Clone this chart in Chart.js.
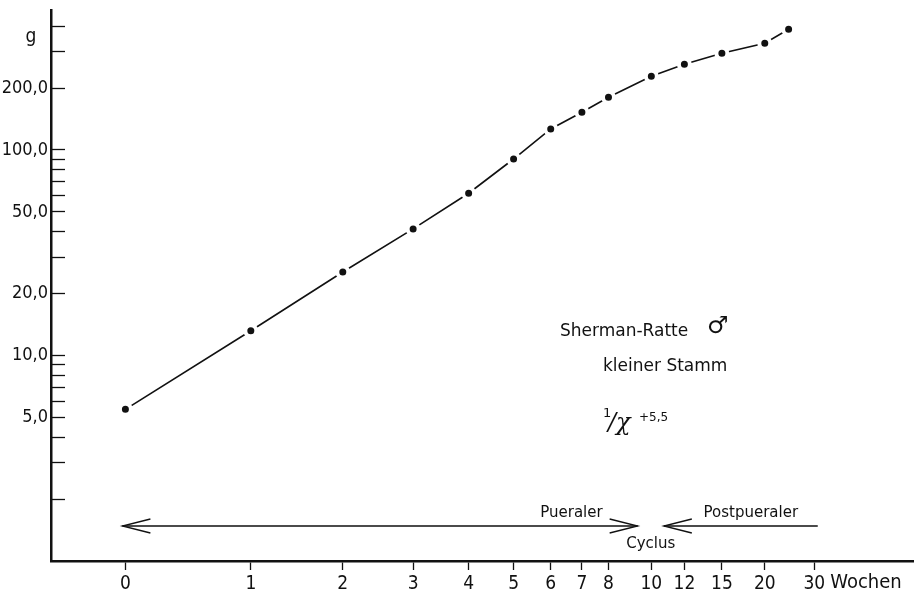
<!DOCTYPE html>
<html>
<head>
<meta charset="utf-8">
<script src="https://cdn.jsdelivr.net/npm/chart.js@4.4.1/dist/chart.umd.min.js"></script>
<style>
    html, body { margin: 0; padding: 0; background: #fff; }
    #wrap { width: 915px; height: 594px; }
</style>
</head>
<body>
<div id="wrap"><canvas id="chart" width="915" height="594"></canvas></div>
<script>
// age in weeks and body weight in g (Sherman rat, male, small strain)
const weeks = [0, 1, 2, 3, 4, 5, 6, 7, 8, 10, 12, 15, 20, 24];
const weights = [5.47, 13.2, 25.5, 41.3, 61.6, 90.4, 126.6, 152.6, 180.5, 228.4, 261.2, 295.5, 330.6, 386.7];

const weekTicks = [0, 1, 2, 3, 4, 5, 6, 7, 8, 10, 12, 15, 20, 30];
const weightTicks = [2, 3, 4, 5, 6, 7, 8, 9, 10, 20, 30, 40, 50, 60, 70, 80, 90, 100, 200, 300, 400];
const weightLabels = [5, 10, 20, 50, 100, 200];

const INK = '#111';
const FONT = '"Liberation Sans Narrow", "DejaVu Sans Condensed", "DejaVu Sans", sans-serif';
const TEXT = '"DejaVu Sans", sans-serif';
const SHIFT = 5.5; // x axis drawn as 1/(x + 5,5)

// x axis spaced like -1/(t + 5.5)
const recip = t => -1 / (t + SHIFT);
const unrecip = r => -1 / r - SHIFT;

class ReciprocalScale extends Chart.LinearScale {
    configure() {
        super.configure();
        this._rMin = recip(this.min);
        this._rMax = recip(this.max);
    }
    buildTicks() {
        return weekTicks.map(v => ({ value: v }));
    }
    getPixelForValue(value) {
        if (value === null || value === undefined) return NaN;
        return this.getPixelForDecimal((recip(value) - this._rMin) / (this._rMax - this._rMin));
    }
    getValueForPixel(pixel) {
        const d = this.getDecimalForPixel(pixel);
        return unrecip(this._rMin + d * (this._rMax - this._rMin));
    }
}
ReciprocalScale.id = 'reciprocal';
ReciprocalScale.defaults = {};
Chart.register(ReciprocalScale);

const noPad = s => {
    s.paddingTop = 0;
    s.paddingBottom = 0;
    s.paddingLeft = 0;
    s.paddingRight = 0;
};

const annotations = {
    id: 'annotations',
    afterDraw(chart) {
        const { ctx, chartArea: a, scales: { x } } = chart;
        ctx.save();
        ctx.fillStyle = INK;
        ctx.strokeStyle = INK;
        ctx.textBaseline = 'middle';

        // unit labels
        ctx.font = '19px ' + FONT;
        ctx.textAlign = 'center';
        ctx.fillText('g', a.left - 20, a.top + 27);
        ctx.textAlign = 'left';
        ctx.font = '20px ' + FONT;
        ctx.fillText('Wochen', x.getPixelForValue(30) + 16, a.bottom + 22);

        // legend text
        ctx.font = '17px ' + TEXT;
        ctx.fillText('Sherman-Ratte', 560, 332);
        ctx.font = '24px ' + TEXT;
        ctx.fillText('\u2642', 707, 327);
        ctx.font = '17px ' + TEXT;
        ctx.fillText('kleiner Stamm', 603, 367);
        ctx.font = '13px ' + TEXT;
        ctx.fillText('1', 603, 414);
        ctx.font = 'italic 24px "DejaVu Serif", serif';
        ctx.fillText('/\u03c7', 608, 424);
        ctx.font = '12px ' + TEXT;
        ctx.fillText('+5,5', 639, 418);

        // phase arrows
        const yA = a.bottom - 35;
        const head = (tip, dir) => {
            ctx.beginPath();
            ctx.moveTo(tip + dir * 28, yA - 7);
            ctx.lineTo(tip, yA);
            ctx.lineTo(tip + dir * 28, yA + 7);
            ctx.stroke();
        };
        ctx.lineWidth = 1.3;
        const p0 = x.getPixelForValue(0) - 3;
        const p1 = x.getPixelForValue(9.3);
        const p2 = x.getPixelForValue(10.7);
        const p3 = x.getPixelForValue(31);
        ctx.beginPath();
        ctx.moveTo(p0, yA); ctx.lineTo(p1, yA);
        ctx.moveTo(p2, yA); ctx.lineTo(p3, yA);
        ctx.stroke();
        head(p0, 1);
        head(p1, -1);
        head(p2, 1);

        ctx.font = '15px ' + TEXT;
        ctx.textAlign = 'right';
        ctx.fillText('Pueraler', p1 - 35, yA - 13);
        ctx.textAlign = 'center';
        ctx.fillText('Cyclus', (p1 + p2) / 2, yA + 18);
        ctx.fillText('Postpueraler', p2 + 87, yA - 13);
        ctx.restore();
    }
};

new Chart(document.getElementById('chart'), {
    type: 'line',
    data: {
        datasets: [{
            data: weeks.map((w, i) => ({ x: w, y: weights[i] })),
            borderColor: INK,
            borderWidth: 1.6,
            pointRadius: 5.5,
            pointBackgroundColor: INK,
            pointBorderColor: '#fff',
            pointBorderWidth: 4,
            tension: 0
        }]
    },
    options: {
        responsive: false,
        animation: false,
        layout: { autoPadding: false, padding: { top: 10, right: 2 } },
        plugins: { legend: { display: false }, tooltip: { enabled: false } },
        scales: {
            x: {
                type: 'reciprocal',
                min: -0.46,
                max: 157,
                afterFit: s => { s.height = 33; noPad(s); },
                grid: { drawOnChartArea: false, tickLength: 9, tickColor: INK, tickWidth: 1.3 },
                border: { color: INK, width: 2.5 },
                ticks: {
                    autoSkip: false,
                    maxRotation: 0,
                    padding: 3,
                    color: INK,
                    font: { family: FONT, size: 19 },
                    callback: v => String(v)
                }
            },
            y: {
                type: 'logarithmic',
                min: 1,
                max: 480,
                afterFit: s => { s.width = 51; noPad(s); },
                afterBuildTicks: s => { s.ticks = weightTicks.map(v => ({ value: v })); },
                grid: { drawOnChartArea: false, tickLength: -14, tickColor: INK, tickWidth: 1.3 },
                border: { color: INK, width: 2.5 },
                ticks: {
                    autoSkip: false,
                    padding: 17,
                    color: INK,
                    font: { family: FONT, size: 18 },
                    callback: v => weightLabels.includes(v) ? v.toFixed(1).replace('.', ',') : ''
                }
            }
        }
    },
    plugins: [annotations]
});
</script>
</body>
</html>
